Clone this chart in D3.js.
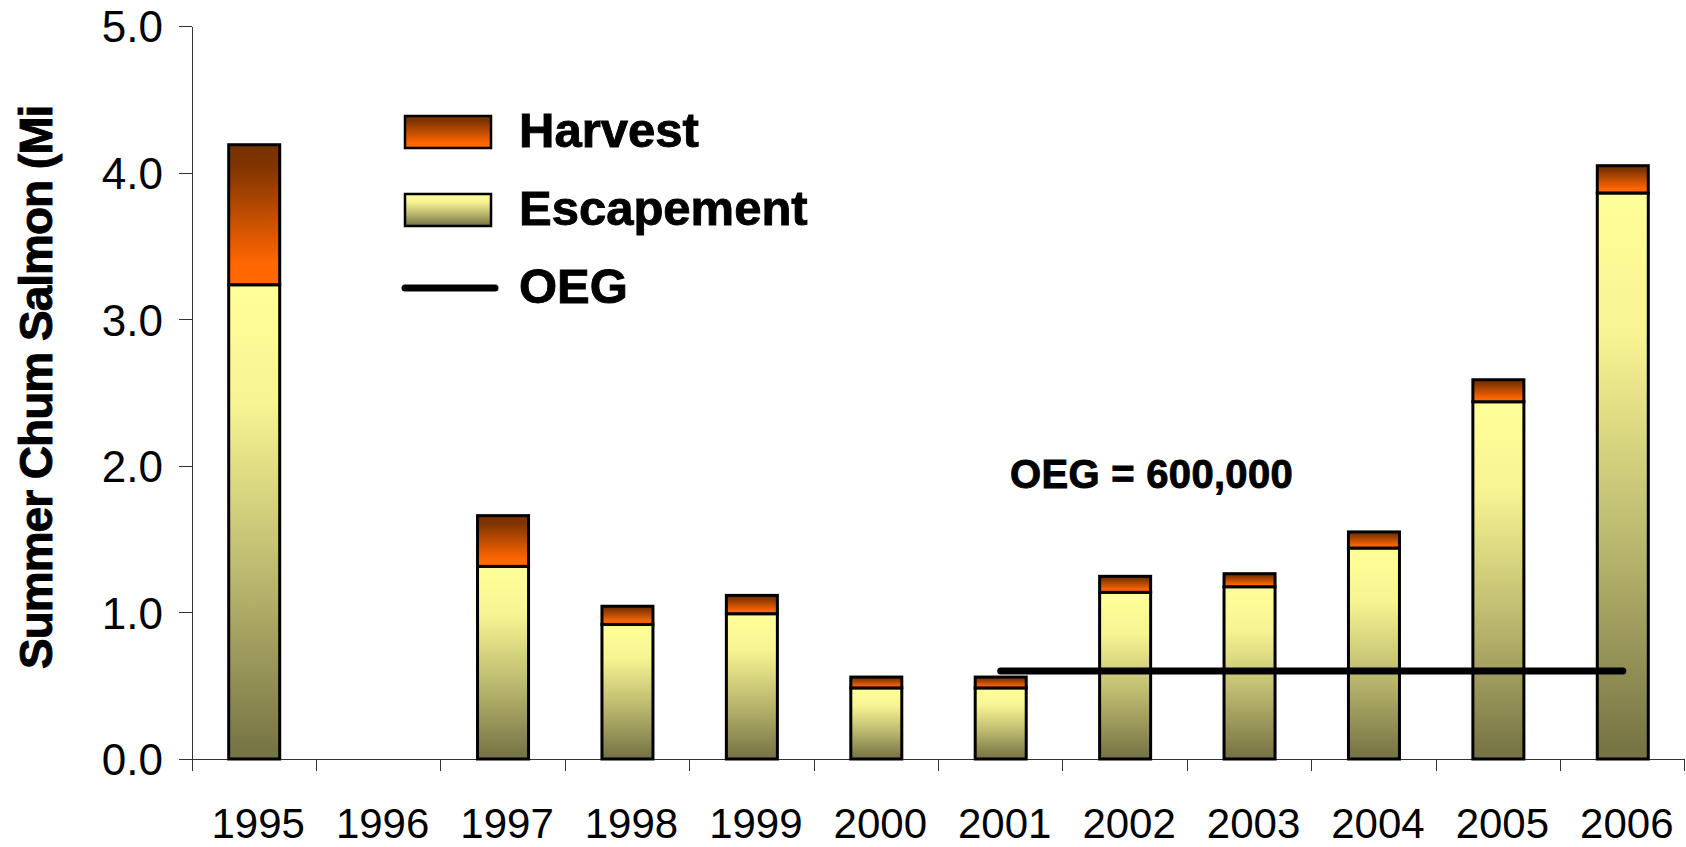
<!DOCTYPE html>
<html>
<head>
<meta charset="utf-8">
<script src="https://cdn.jsdelivr.net/npm/d3@7"></script>
<style>
  body { margin: 0; background: #fff; }
  svg { display: block; font-family: Arial, "Liberation Sans", sans-serif; }
  .axis path, .axis line { stroke: #333; stroke-width: 1; shape-rendering: crispEdges; }
  .heavy { stroke: #000; stroke-width: 0.9; paint-order: stroke; }
</style>
</head>
<body>
<div class="chart"></div>
<script>

	// Size of the drawing area
	var w = 1686;
	var h = 847;
	var margin = { top: 26, right: 1, bottom: 88, left: 192 };

	// Chart values (millions of fish)
	var years      = ["1995", "1996", "1997", "1998", "1999", "2000", "2001", "2002", "2003", "2004", "2005", "2006"];
	var escapement = [3.235, null, 1.314, 0.918, 0.991, 0.485, 0.485, 1.137, 1.175, 1.439, 2.437, 3.861];
	var harvest    = [0.955, null, 0.346, 0.124, 0.125, 0.074, 0.074, 0.109, 0.089, 0.110, 0.150, 0.186];
	var yTicks     = [0, 1, 2, 3, 4, 5];

	// Escapement goal line
	var oegValue = 0.6;
	var oegYears = ["2001", "2006"];
	var oegLabel = "OEG = 600,000";

	var legendItems = ["Harvest", "Escapement", "OEG"];

	// Build rows from the arrays, skip years without a bar
	var dataset = [];
	for (var i = 0; i < years.length; i++) {
		if (escapement[i] == null) continue;
		dataset.push({ year: years[i], esc: escapement[i], harv: harvest[i] });
	}

	/* ---------------------------------
		Scales & Axes
	------------------------------------*/

	var xScale = d3.scaleBand()
		.domain(years)
		.range([margin.left, w - margin.right])
		.paddingInner(0.59)
		.paddingOuter(0.295);

	var yScale = d3.scaleLinear()
		.domain([0, 5])
		.range([h - margin.bottom, margin.top]);

	var svg = d3.select(".chart")
		.append("svg")
		.attr("width", w)
		.attr("height", h);

	// Gradients
	var defs = svg.append("defs");

	var gEsc = defs.append("linearGradient")
		.attr("id", "escGrad")
		.attr("x1", 0).attr("y1", 0).attr("x2", 0).attr("y2", 1);
	gEsc.append("stop").attr("offset", "0%").attr("stop-color", "#ffff99");
	gEsc.append("stop").attr("offset", "25%").attr("stop-color", "#f7f492");
	gEsc.append("stop").attr("offset", "60%").attr("stop-color", "#bdbb70");
	gEsc.append("stop").attr("offset", "100%").attr("stop-color", "#747143");

	var gHarv = defs.append("linearGradient")
		.attr("id", "harvGrad")
		.attr("x1", 0).attr("y1", 0).attr("x2", 0).attr("y2", 1);
	gHarv.append("stop").attr("offset", "0%").attr("stop-color", "#773200");
	gHarv.append("stop").attr("offset", "15%").attr("stop-color", "#7f3400");
	gHarv.append("stop").attr("offset", "85%").attr("stop-color", "#ff6600");
	gHarv.append("stop").attr("offset", "100%").attr("stop-color", "#ff6a00");

	defs.append("clipPath")
		.attr("id", "titleClip")
		.append("rect")
		.attr("x", 0).attr("y", 106).attr("width", 80).attr("height", h);

	// Y axis
	var yAxis = d3.axisLeft(yScale)
		.tickValues(yTicks)
		.tickFormat(d3.format(".1f"))
		.tickSize(13)
		.tickSizeOuter(0)
		.tickPadding(16);

	var yG = svg.append("g")
		.attr("class", "axis")
		.attr("transform", "translate(" + margin.left + ",0)")
		.call(yAxis);

	yG.selectAll("text")
		.attr("font-size", 44)
		.attr("fill", "#000")
		.attr("font-family", "Arial, 'Liberation Sans', sans-serif")
		.attr("dy", "0.36em");

	// X axis: labels from the axis, line and ticks at band edges
	var xAxis = d3.axisBottom(xScale)
		.tickSize(0)
		.tickPadding(49);

	var xG = svg.append("g")
		.attr("class", "axis")
		.attr("transform", "translate(0," + yScale(0) + ")")
		.call(xAxis);

	xG.select(".domain").remove();
	xG.selectAll("text")
		.attr("font-size", 42)
		.attr("fill", "#000")
		.attr("font-family", "Arial, 'Liberation Sans', sans-serif")
		.attr("dx", 4);

	svg.append("line")
		.attr("class", "baseline")
		.attr("x1", margin.left - 13)
		.attr("x2", xScale.range()[1])
		.attr("y1", yScale(0))
		.attr("y2", yScale(0))
		.attr("stroke", "#333")
		.attr("shape-rendering", "crispEdges");

	var edges = d3.range(years.length + 1).map(function(k) {
		return xScale.range()[0] + k * xScale.step();
	});

	svg.selectAll(".xtick")
		.data(edges)
		.enter()
		.append("line")
		.attr("class", "xtick")
		.attr("x1", function(d) { return Math.min(d, w - 1.5); })
		.attr("x2", function(d) { return Math.min(d, w - 1.5); })
		.attr("y1", yScale(0))
		.attr("y2", yScale(0) + 12)
		.attr("stroke", "#333")
		.attr("shape-rendering", "crispEdges");

	/* ---------------------------------
		Bars
	------------------------------------*/

	svg.selectAll(".esc")
		.data(dataset)
		.enter()
		.append("rect")
		.attr("class", "esc")
		.attr("x", function(d) { return xScale(d.year); })
		.attr("width", xScale.bandwidth())
		.attr("y", function(d) { return yScale(d.esc); })
		.attr("height", function(d) { return yScale(0) - yScale(d.esc); })
		.attr("fill", "url(#escGrad)")
		.attr("stroke", "#000")
		.attr("stroke-width", 3);

	svg.selectAll(".harv")
		.data(dataset)
		.enter()
		.append("rect")
		.attr("class", "harv")
		.attr("x", function(d) { return xScale(d.year); })
		.attr("width", xScale.bandwidth())
		.attr("y", function(d) { return yScale(d.esc + d.harv); })
		.attr("height", function(d) { return yScale(d.esc) - yScale(d.esc + d.harv); })
		.attr("fill", "url(#harvGrad)")
		.attr("stroke", "#000")
		.attr("stroke-width", 3);

	/* ---------------------------------
		OEG line & label
	------------------------------------*/

	svg.append("line")
		.attr("class", "oeg")
		.attr("x1", xScale(oegYears[0]) + xScale.bandwidth() / 2)
		.attr("x2", xScale(oegYears[1]) + xScale.bandwidth() / 2)
		.attr("y1", yScale(oegValue))
		.attr("y2", yScale(oegValue))
		.attr("stroke", "#000")
		.attr("stroke-width", 7)
		.attr("stroke-linecap", "round");

	svg.append("text")
		.attr("class", "heavy")
		.attr("x", 1010)
		.attr("y", 488)
		.attr("font-size", 40)
		.attr("font-weight", "bold")
		.attr("letter-spacing", 0.3)
		.text(oegLabel);

	/* ---------------------------------
		Legend
	------------------------------------*/

	var legend = svg.append("g")
		.attr("transform", "translate(405,116)");

	var rowGap = 78;

	legend.append("rect")
		.attr("x", 0).attr("y", 0)
		.attr("width", 86).attr("height", 32)
		.attr("fill", "url(#harvGrad)")
		.attr("stroke", "#000").attr("stroke-width", 2.5);

	legend.append("rect")
		.attr("x", 0).attr("y", rowGap)
		.attr("width", 86).attr("height", 32)
		.attr("fill", "url(#escGrad)")
		.attr("stroke", "#000").attr("stroke-width", 2.5);

	legend.append("line")
		.attr("x1", 0).attr("x2", 90)
		.attr("y1", 2 * rowGap + 16).attr("y2", 2 * rowGap + 16)
		.attr("stroke", "#000").attr("stroke-width", 7)
		.attr("stroke-linecap", "round");

	legend.selectAll(".legText")
		.data(legendItems)
		.enter()
		.append("text")
		.attr("class", "legText heavy")
		.attr("x", 114)
		.attr("y", function(d, i) { return i * rowGap + 31; })
		.attr("font-size", 49)
		.attr("font-weight", "bold")
		.attr("letter-spacing", 0)
		.text(function(d) { return d; });

	/* ---------------------------------
		Y title (clipped like the original)
	------------------------------------*/

	svg.append("g")
		.attr("clip-path", "url(#titleClip)")
		.append("text")
		.attr("class", "heavy")
		.attr("transform", "translate(52,669) rotate(-90)")
		.attr("font-size", 46)
		.attr("font-weight", "bold")
		.attr("letter-spacing", -1)
		.text("Summer Chum Salmon (Millions)");

</script>
</body>
</html>
